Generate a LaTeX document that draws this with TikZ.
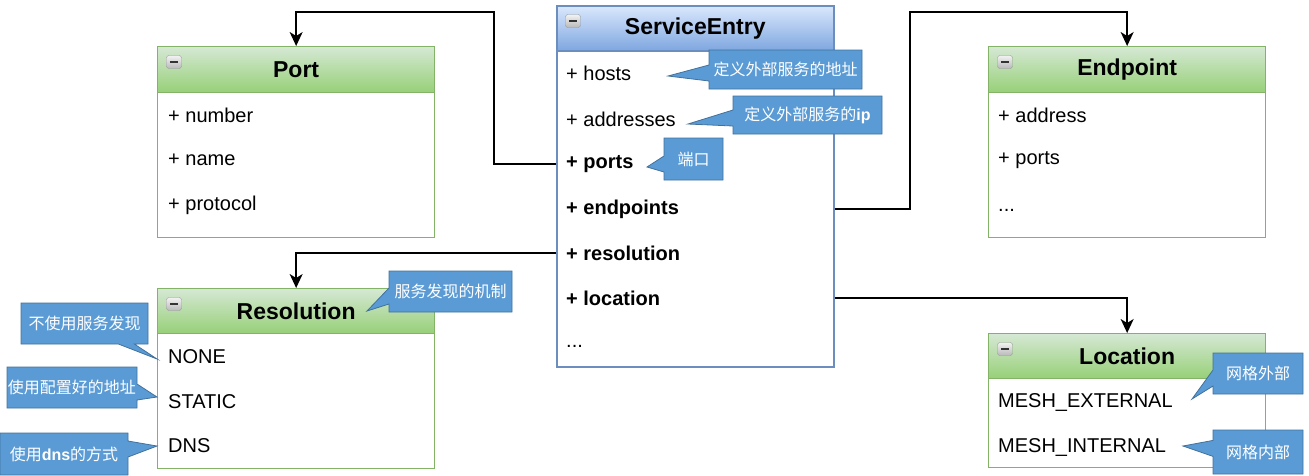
\documentclass[tikz,border=0pt]{standalone}
\usepackage{fontspec}
\setmainfont{Liberation Sans}
\newfontfamily\cjk{Noto Sans CJK SC}
\usetikzlibrary{shapes.callouts,arrows.meta}

\definecolor{seline}{HTML}{6C8EBF}
\definecolor{setop}{HTML}{DAE8FC}
\definecolor{sebot}{HTML}{7EA6E0}
\definecolor{clsline}{HTML}{82B366}
\definecolor{clstop}{HTML}{D5E8D4}
\definecolor{clsbot}{HTML}{97D077}
\definecolor{notefill}{HTML}{5B9BD5}
\definecolor{noteline}{HTML}{41719C}

\tikzset{
  clsbox/.style={draw=clsline, line width=1.3pt, fill=white, inner sep=0pt, anchor=north west, minimum width=277pt},
  clshead/.style={draw=clsline, line width=1.3pt, top color=clstop, bottom color=clsbot, inner sep=0pt, anchor=north west,
    minimum width=277pt, minimum height=46pt, font=\bfseries\fontsize{23}{27}\selectfont},
  sebox/.style={clsbox, draw=seline, line width=1.6pt},
  sehead/.style={clshead, draw=seline, line width=1.6pt, top color=setop, bottom color=sebot, minimum height=45pt},
  attr/.style={anchor=west, inner sep=0pt, font=\fontsize{20}{24}\selectfont},
  attrb/.style={attr, font=\bfseries\fontsize{20}{24}\selectfont},
  foldicon/.style={draw=gray!80, rounded corners=2.5pt, top color=gray!10, bottom color=gray!55, minimum width=15pt, minimum height=13pt, inner sep=0pt,
    path picture={\draw[line width=2pt, gray!40!black] ([xshift=-4pt]path picture bounding box.center) -- ([xshift=4pt]path picture bounding box.center);}},
  link/.style={line width=1.4pt, -{Stealth[length=14pt,width=13pt,inset=4pt]}},
  notebox/.style={rectangle callout, draw=noteline, fill=notefill, text=white, line width=0.8pt, inner sep=0pt,
    callout pointer width=16pt, font=\cjk\fontsize{16}{19}\selectfont}
}

\begin{document}
\begin{tikzpicture}[x=1pt,y=-1pt]
\useasboundingbox (0,0) rectangle (1309,475);

% ServiceEntry
\node[sebox, minimum height=361pt] (se) at (556,5) {};
\node[sehead] (se-head) at (556,5) {ServiceEntry};
\node[foldicon] (se-fold) at (573,21) {};
\node[attr] (se-hosts) at (566,73) {+ hosts};
\node[attr] (se-addresses) at (566,119) {+ addresses};
\node[attrb] (se-ports) at (566,164) {+ ports};
\node[attrb] (se-endpoints) at (566,209) {+ endpoints};
\node[attrb] (se-resolution) at (566,253) {+ resolution};
\node[attrb] (se-location) at (566,298) {+ location};
\node[attr] (se-more) at (566,346) {...};

% Port
\node[clsbox, minimum height=191pt] (port) at (157,46) {};
\node[clshead] (port-head) at (157,46) {Port};
\node[foldicon] (port-fold) at (174,62) {};
\node[attr] (port-number) at (168,115) {+ number};
\node[attr] (port-name) at (168,160) {+ name};
\node[attr] (port-protocol) at (168,205) {+ protocol};

% Endpoint
\node[clsbox, minimum height=191pt] (endpoint) at (988,46) {};
\node[clshead] (endpoint-head) at (988,46) {Endpoint};
\node[foldicon] (endpoint-fold) at (1005,62) {};
\node[attr] (endpoint-address) at (998,115) {+ address};
\node[attr] (endpoint-ports) at (998,160) {+ ports};
\node[attr] (endpoint-more) at (998,210) {...};

% Resolution
\node[clsbox, minimum height=180pt] (resolution) at (157,288) {};
\node[clshead, minimum height=45pt] (resolution-head) at (157,288) {Resolution};
\node[foldicon] (resolution-fold) at (174,304) {};
\node[attr] (res-none) at (168,357) {NONE};
\node[attr] (res-static) at (168,402) {STATIC};
\node[attr] (res-dns) at (168,446) {DNS};

% Location
\node[clsbox, minimum height=134pt] (location) at (988,333) {};
\node[clshead, minimum height=45pt] (location-head) at (988,333) {Location};
\node[foldicon] (location-fold) at (1005,349) {};
\node[attr] (loc-external) at (998,402) {MESH\_EXTERNAL};
\node[attr] (loc-internal) at (998,447) {MESH\_INTERNAL};

% connectors
\draw[link] (se.west |- se-ports) -| (494,12) -| (port.north);
\draw[link] (se.east |- se-endpoints) -| (910,12) -| (endpoint.north);
\draw[link] (se.west |- se-resolution) -| (resolution.north);
\draw[link] (se.east |- se-location) -| (location.north);

% callouts
\node[notebox, minimum width=153pt, minimum height=39pt, callout absolute pointer={(668,76)}] (note-hosts) at (785.5,69.5) {定义外部服务的地址};
\node[notebox, minimum width=149pt, minimum height=38pt, callout absolute pointer={(688,124)}] (note-addresses) at (807.5,115) {定义外部服务的\textbf{\rmfamily ip}};
\node[notebox, minimum width=59pt, minimum height=42pt, callout absolute pointer={(647,167)}] (note-ports) at (693.5,159) {端口};
\node[notebox, minimum width=123pt, minimum height=41pt, callout absolute pointer={(367,311)}] (note-resolution) at (450.5,291.5) {服务发现的机制};
\node[notebox, minimum width=127pt, minimum height=41pt, callout absolute pointer={(157,359)}] (note-none) at (84.5,323.5) {不使用服务发现};
\node[notebox, minimum width=130pt, minimum height=41pt, callout absolute pointer={(157,397)}] (note-static) at (72,387.5) {使用配置好的地址};
\node[notebox, minimum width=128pt, minimum height=42pt, callout absolute pointer={(157,446)}] (note-dns) at (64,454) {使用\textbf{\rmfamily dns}的方式};
\node[notebox, minimum width=90pt, minimum height=41pt, callout absolute pointer={(1192,399)}] (note-external) at (1258,373.5) {网格外部};
\node[notebox, minimum width=90pt, minimum height=44pt, callout absolute pointer={(1183,446)}] (note-internal) at (1258,452) {网格内部};
\end{tikzpicture}
\end{document}
